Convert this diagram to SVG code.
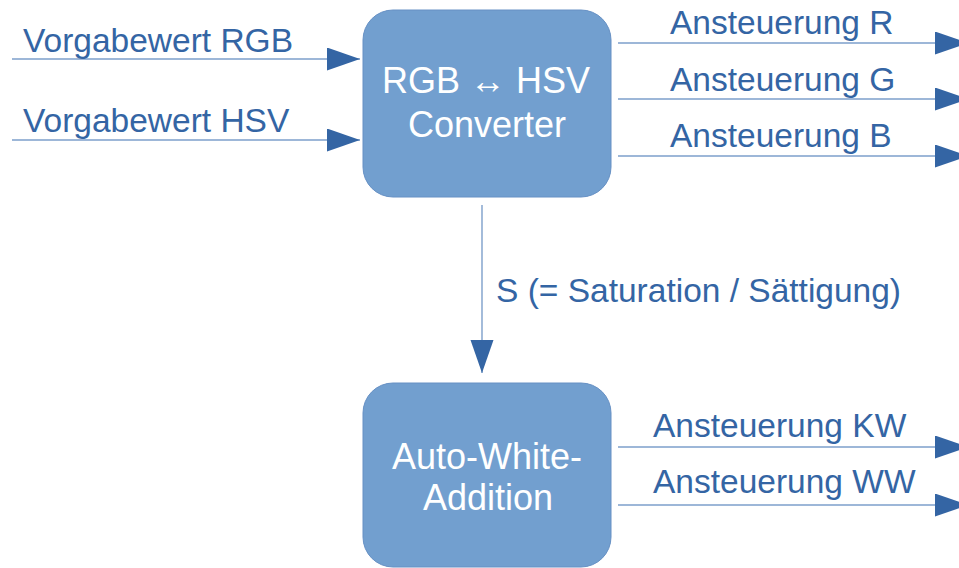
<svg xmlns="http://www.w3.org/2000/svg" width="959" height="568" viewBox="0 0 959 568">
  <style>
    .box { fill: #729fcf; stroke: #6690c4; stroke-width: 1; }
    .lbl { font-family: "Liberation Sans", Arial, sans-serif; font-size: 33.5px; fill: #3465a4; }
    .in { font-family: "Liberation Sans", Arial, sans-serif; font-size: 36px; fill: #ffffff; text-anchor: middle; }
    .con { stroke: #7d9fcb; stroke-width: 1.4; fill: none; marker-end: url(#ah); }
  </style>
  <defs>
    <marker id="ah" markerUnits="userSpaceOnUse" markerWidth="34" markerHeight="24" refX="33" refY="11.5" orient="auto" viewBox="0 0 34 24">
      <path d="M0,0 L33,11.5 L0,23 Z" fill="#3465a4"/>
    </marker>
  </defs>
  <rect width="959" height="568" fill="#ffffff"/>

  <g id="connectors">
    <line class="con" x1="12" y1="59" x2="360" y2="59"/>
    <line class="con" x1="12" y1="140" x2="360" y2="140"/>
    <line class="con" x1="618" y1="43" x2="968" y2="43"/>
    <line class="con" x1="618" y1="99" x2="968" y2="99"/>
    <line class="con" x1="618" y1="156" x2="968" y2="156"/>
    <line class="con" x1="482" y1="205" x2="482" y2="373"/>
    <line class="con" x1="618" y1="447" x2="968" y2="447"/>
    <line class="con" x1="618" y1="505" x2="968" y2="505"/>
  </g>

  <g id="labels">
    <text class="lbl" x="23" y="52">Vorgabewert RGB</text>
    <text class="lbl" x="23" y="132">Vorgabewert HSV</text>
    <text class="lbl" x="670" y="34">Ansteuerung R</text>
    <text class="lbl" x="670" y="91">Ansteuerung G</text>
    <text class="lbl" x="670" y="147">Ansteuerung B</text>
    <text class="lbl" x="496" y="302">S (= Saturation / Sättigung)</text>
    <text class="lbl" x="653" y="437">Ansteuerung KW</text>
    <text class="lbl" x="653" y="493">Ansteuerung WW</text>
  </g>

  <g id="converter">
    <rect class="box" x="363" y="10" width="248" height="187" rx="30" ry="30"/>
    <text class="in" x="486" y="93">RGB ↔ HSV</text>
    <text class="in" x="487" y="137">Converter</text>
  </g>

  <g id="auto-white">
    <rect class="box" x="363" y="383" width="248" height="184" rx="30" ry="30"/>
    <text class="in" x="487" y="469">Auto-White-</text>
    <text class="in" x="488" y="510">Addition</text>
  </g>
</svg>
